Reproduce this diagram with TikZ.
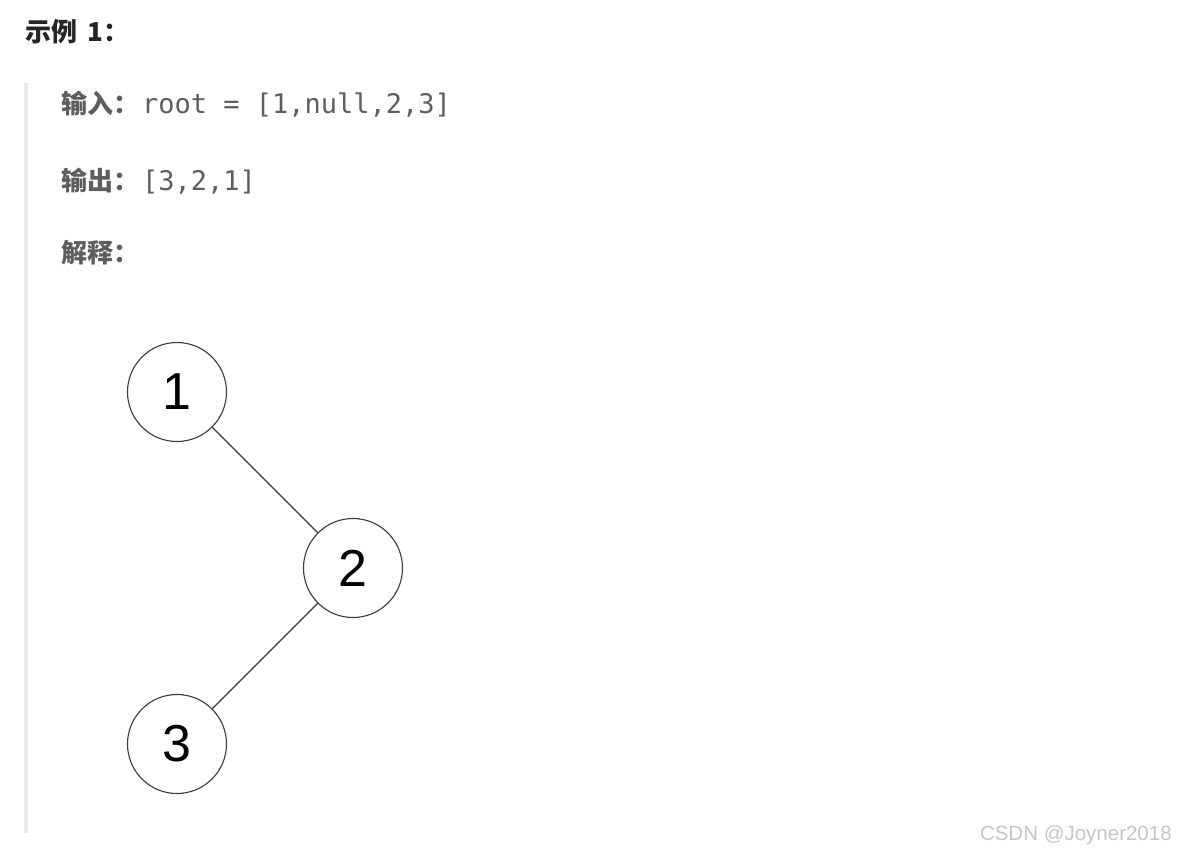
\documentclass[tikz,border=0pt]{standalone}
\usepackage{fontspec}
\setmainfont{Liberation Sans}
\newfontfamily\cjk{Noto Sans CJK SC}
\newfontfamily\mono{DejaVu Sans Mono}
\usetikzlibrary{positioning}
\definecolor{exblack}{HTML}{262626}
\definecolor{exgray}{HTML}{5E5E5E}
\definecolor{exbar}{HTML}{EAEAEA}
\definecolor{exline}{HTML}{3A3A3A}
\definecolor{exmark}{HTML}{C6C6C6}

\begin{document}
\begin{tikzpicture}[x=1pt, y=-1pt,
  every node/.style={inner sep=0pt, outer sep=0pt},
  heading/.style={anchor=base west, text=exblack, font=\fontsize{26}{30}\selectfont\cjk\bfseries},
  fieldlabel/.style={anchor=base west, text=exgray, font=\fontsize{26}{30}\selectfont},
  treenode/.style={circle, draw=exline, line width=1.1pt, minimum size=99pt, font=\fontsize{52}{60}\selectfont},
  edge/.style={draw=exline, line width=1.3pt},
]
\useasboundingbox[fill=white] (0,0) rectangle (1182,854);
\fill[exbar] (24,83) rectangle (28,833);

\node[heading] (title) at (25,41) {示例\hspace{11pt}1：};
\node[fieldlabel] (input) at (61,113) {{\cjk\bfseries 输入：}\hspace{3pt}{\fontsize{27}{30}\selectfont\mono root = [1,null,2,3]}};
\node[fieldlabel] (output) at (61,190) {{\cjk\bfseries 输出：}\hspace{3pt}{\fontsize{27}{30}\selectfont\mono [3,2,1]}};
\node[fieldlabel] (explain) at (61,262) {{\cjk\bfseries 解释：}};

\node[treenode] (n1) at (177,392) {1};
\node[treenode] (n2) at (353,568) {2};
\node[treenode] (n3) at (177,744) {3};
\draw[edge] (n1) -- (n2);
\draw[edge] (n2) -- (n3);

\node[anchor=base west, text=exmark, font=\fontsize{20.5}{24}\selectfont] (mark) at (980,840) {CSDN @Joyner2018};
\end{tikzpicture}
\end{document}
